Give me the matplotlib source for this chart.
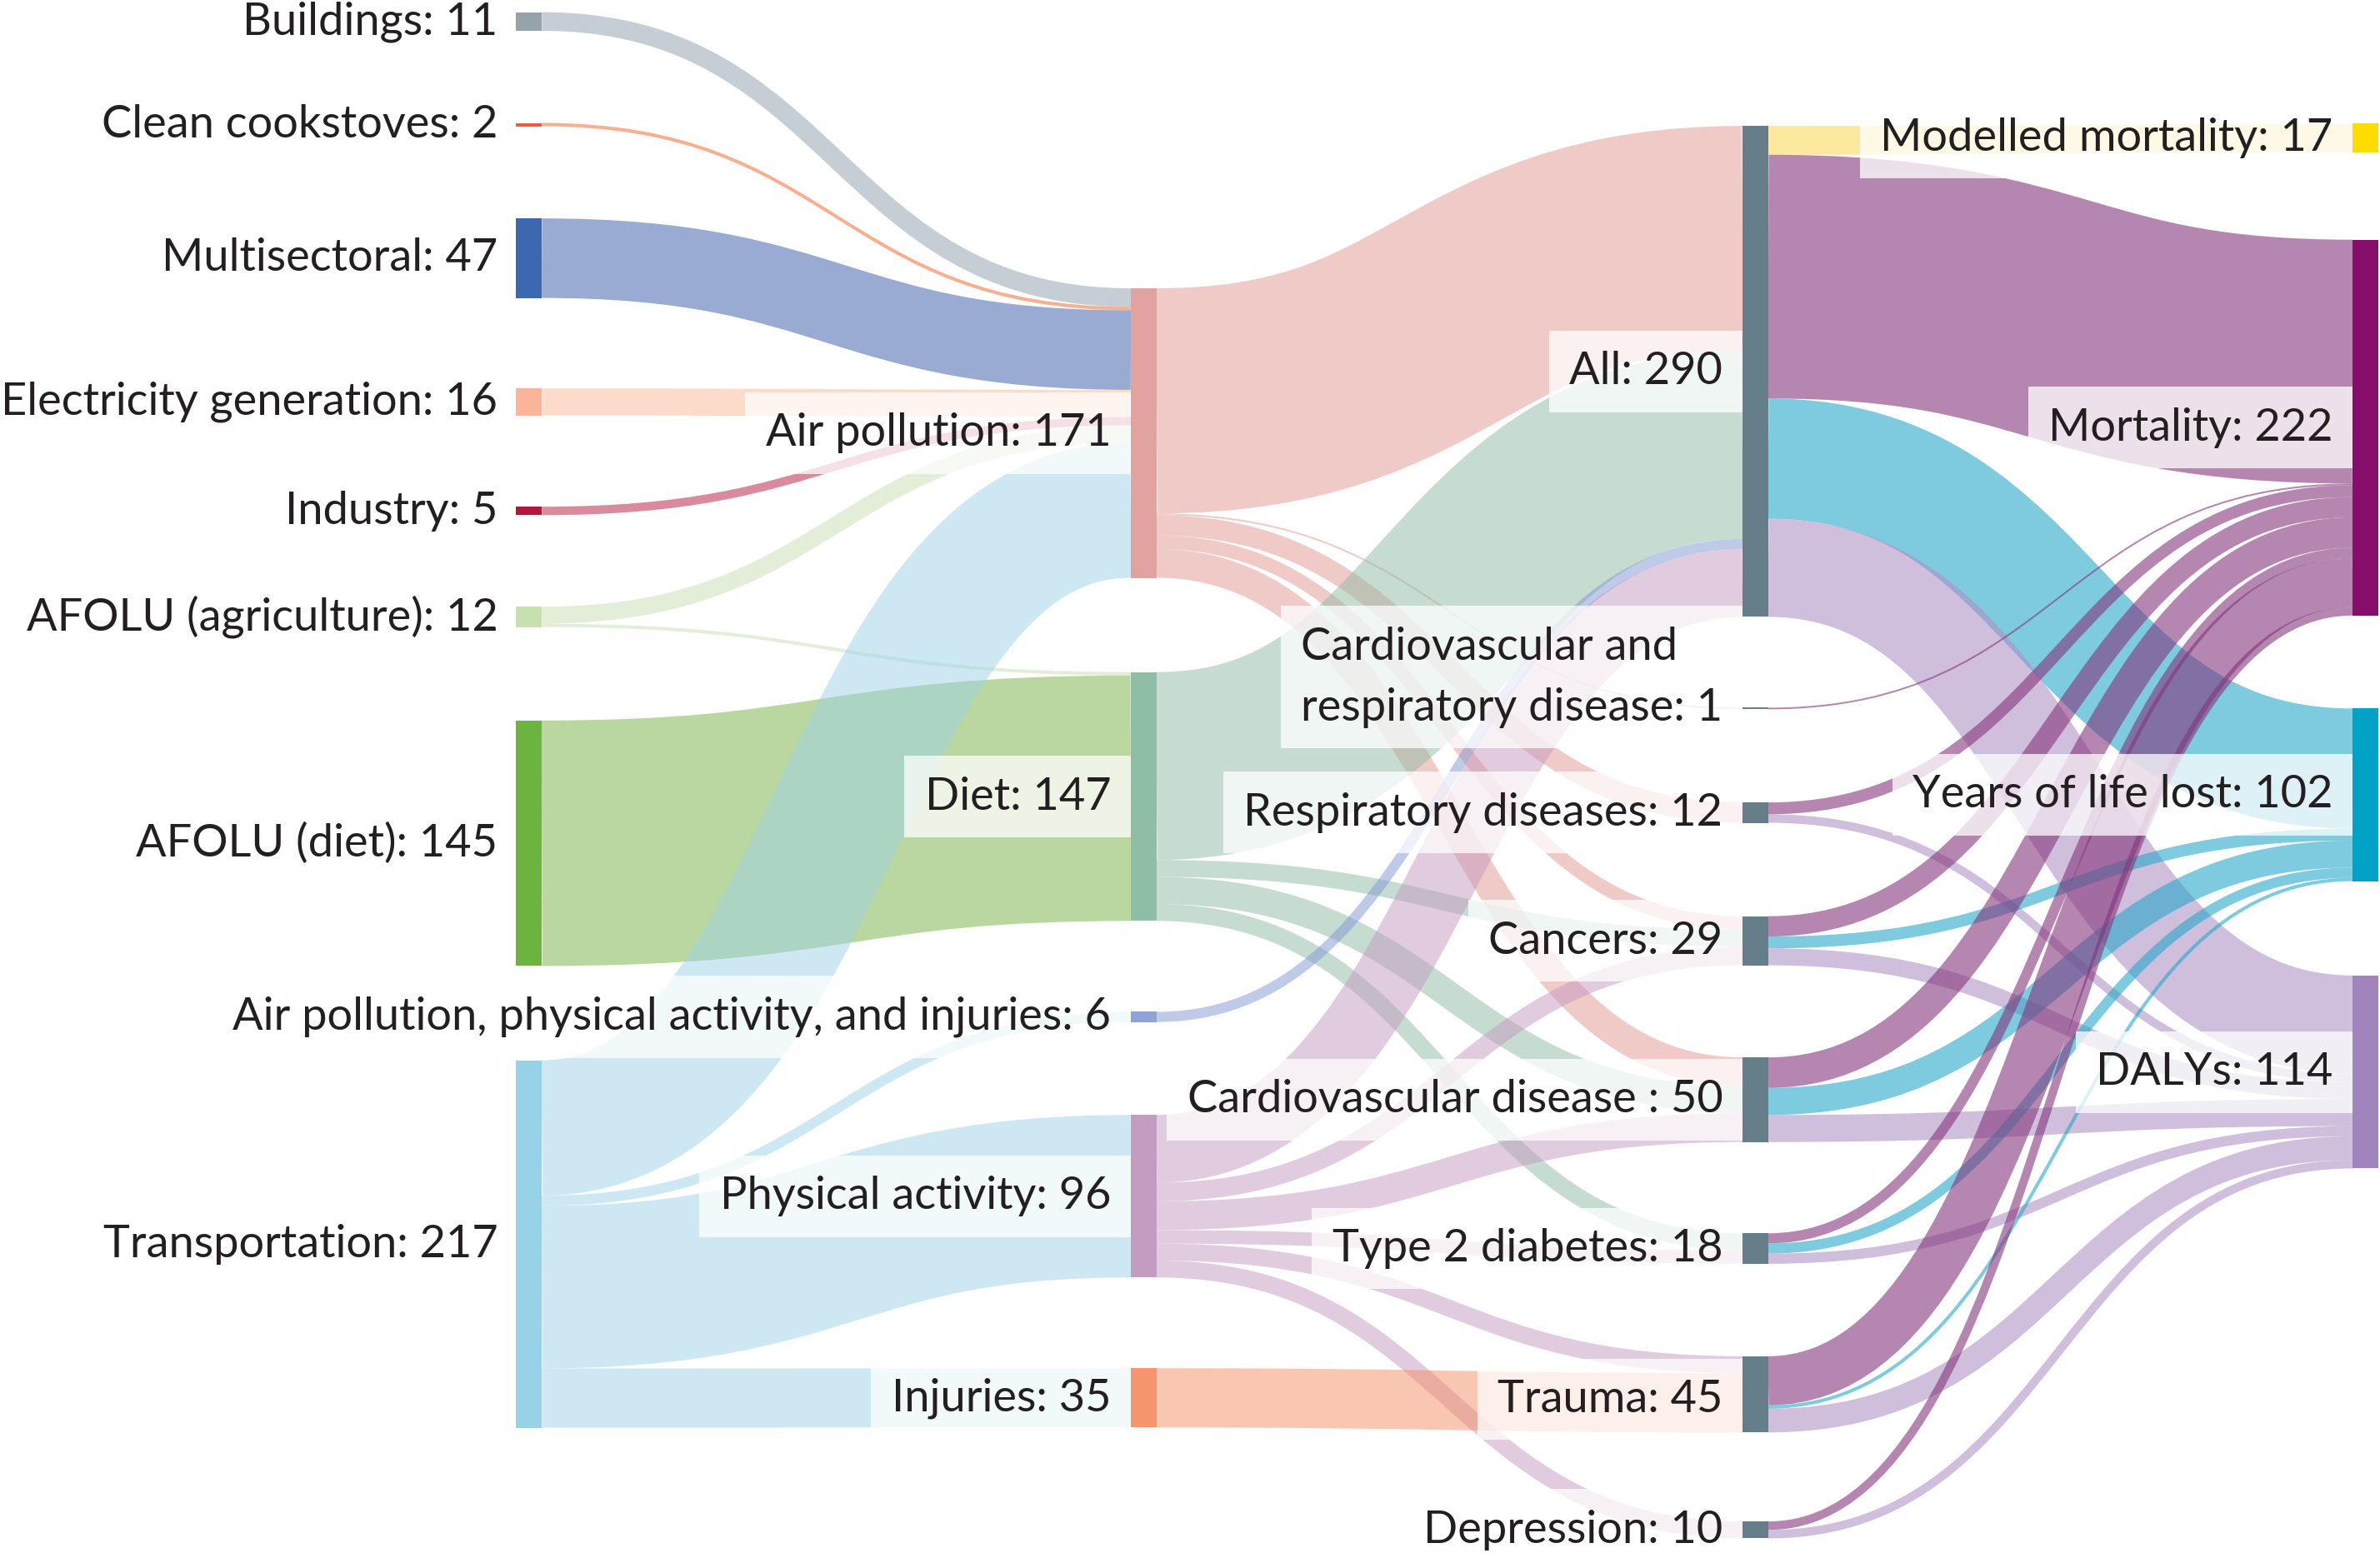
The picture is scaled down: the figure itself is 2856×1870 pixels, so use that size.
import matplotlib
matplotlib.use('Agg')
import matplotlib.pyplot as plt
from matplotlib.path import Path
from matplotlib.patches import PathPatch

plt.rcParams['font.family'] = ['Lato', 'DejaVu Sans']

# ---- data -------------------------------------------------------------
NODE_NAMES = [
    # column 0: sectors
    'Buildings', 'Clean cookstoves', 'Multisectoral', 'Electricity generation',
    'Industry', 'AFOLU (agriculture)', 'AFOLU (diet)', 'Transportation',
    # column 1: pathways
    'Air pollution', 'Diet', 'Air pollution, physical activity, and injuries',
    'Physical activity', 'Injuries',
    # column 2: health outcomes
    'All', 'Cardiovascular and\nrespiratory disease', 'Respiratory diseases',
    'Cancers', 'Cardiovascular disease ', 'Type 2 diabetes', 'Trauma',
    'Depression',
    # column 3: metrics
    'Modelled mortality', 'Mortality', 'Years of life lost', 'DALYs',
]
NODE_COLUMN = [0] * 8 + [1] * 5 + [2] * 8 + [3] * 4

LINK_SOURCE = [
    'Buildings', 'Clean cookstoves', 'Multisectoral', 'Electricity generation',
    'Industry', 'AFOLU (agriculture)', 'AFOLU (agriculture)', 'AFOLU (diet)',
    'Transportation', 'Transportation', 'Transportation', 'Transportation',
    'Air pollution', 'Air pollution', 'Air pollution', 'Air pollution', 'Air pollution',
    'Diet', 'Diet', 'Diet', 'Diet',
    'Air pollution, physical activity, and injuries',
    'Physical activity', 'Physical activity', 'Physical activity',
    'Physical activity', 'Physical activity', 'Physical activity',
    'Injuries',
    'All', 'All', 'All', 'All',
    'Cardiovascular and\nrespiratory disease',
    'Respiratory diseases', 'Respiratory diseases',
    'Cancers', 'Cancers', 'Cancers',
    'Cardiovascular disease ', 'Cardiovascular disease ', 'Cardiovascular disease ',
    'Type 2 diabetes', 'Type 2 diabetes', 'Type 2 diabetes',
    'Trauma', 'Trauma', 'Trauma',
    'Depression', 'Depression',
]
LINK_TARGET = [
    'Air pollution', 'Air pollution', 'Air pollution', 'Air pollution',
    'Air pollution', 'Air pollution', 'Diet', 'Diet',
    'Air pollution', 'Air pollution, physical activity, and injuries',
    'Physical activity', 'Injuries',
    'All', 'Cardiovascular and\nrespiratory disease', 'Respiratory diseases',
    'Cancers', 'Cardiovascular disease ',
    'All', 'Cancers', 'Cardiovascular disease ', 'Type 2 diabetes',
    'All',
    'All', 'Cancers', 'Cardiovascular disease ', 'Type 2 diabetes',
    'Trauma', 'Depression',
    'Trauma',
    'Modelled mortality', 'Mortality', 'Years of life lost', 'DALYs',
    'Mortality',
    'Mortality', 'DALYs',
    'Mortality', 'Years of life lost', 'DALYs',
    'Mortality', 'Years of life lost', 'DALYs',
    'Mortality', 'Years of life lost', 'DALYs',
    'Mortality', 'Years of life lost', 'DALYs',
    'Mortality', 'DALYs',
]
LINK_VALUE = [
    11, 2, 47, 16,
    5, 10, 2, 145,
    80, 6, 96, 35,
    133, 1, 12, 8, 17,
    111, 10, 16, 10,
    6,
    40, 11, 17, 8, 10, 10,
    35,
    17, 144, 71, 58,
    1,
    7, 5,
    12, 7, 10,
    18, 16, 16,
    6, 6, 6,
    29, 2, 14,
    5, 5,
]

# ---- layout & style ---------------------------------------------------
# top edge of every node, in flow units
NODE_TOP = [7.2, 72.6, 129.0, 229.4, 299.3, 358.4, 425.6, 626.3,
            170.3, 397.0, 597.7, 658.6, 808.2,
            74.4, 418.0, 474.0, 541.2, 624.6, 728.5, 801.1, 898.7,
            73.0, 141.6, 418.5, 576.2]
COL_X = [340, 745, 1148, 1550]
NODE_W = 17
Y_MAX = 920.3

NODE_COLOR = {
    'Buildings': '#95a3ab', 'Clean cookstoves': '#ee5a3c',
    'Multisectoral': '#3b68ae', 'Electricity generation': '#f9b49a',
    'Industry': '#b3163a', 'AFOLU (agriculture)': '#c7e0b0',
    'AFOLU (diet)': '#6db33f', 'Transportation': '#96d3e8',
    'Air pollution': '#e0a39f', 'Diet': '#8fbda5',
    'Air pollution, physical activity, and injuries': '#8fa3d8',
    'Physical activity': '#c39dc1', 'Injuries': '#f6956e',
    'Modelled mortality': '#fedc00', 'Mortality': '#850e6b',
    'Years of life lost': '#00a3c6', 'DALYs': '#a184bd',
}
OUTCOME_COLOR = '#667d8a'
FLOW_COLOR = {
    'Buildings': '#8d9fad', 'Clean cookstoves': '#f36121',
    'Multisectoral': '#3557a9', 'Electricity generation': '#fbb999',
    'Industry': '#b5163a', 'AFOLU (agriculture)': '#c7dfb1',
    'AFOLU (diet)': '#75b13f', 'Transportation': '#9fd3e9',
    'Air pollution': '#e39791', 'Diet': '#8fbba3',
    'Air pollution, physical activity, and injuries': '#8197d5',
    'Physical activity': '#c599c1', 'Injuries': '#f38f65',
    'Modelled mortality': '#fcda61', 'Mortality': '#84357b',
    'Years of life lost': '#28a7cb', 'DALYs': '#af93c6',
}
LABEL_DY = {'Cardiovascular and\nrespiratory disease': -18.5, 'Trauma': 3}
FONT_SIZE = 19.5
TEXT_COLOR = '#231f20'

# ---- figure -----------------------------------------------------------
DPI = 200
fig = plt.figure(figsize=(2856 / DPI, 1870 / DPI), dpi=DPI)
ax = fig.add_axes([0, 0, 1, 1])
ax.set_xlim(0, 1568)
ax.set_ylim(Y_MAX, 0)
ax.axis('off')

lw_per_unit = 1870 / Y_MAX * 72 / DPI

top = {n: NODE_TOP[i] for i, n in enumerate(NODE_NAMES)}
col = {n: NODE_COLUMN[i] for i, n in enumerate(NODE_NAMES)}

links = list(zip(LINK_SOURCE, LINK_TARGET, LINK_VALUE))
value = {}
for n in NODE_NAMES:
    v_in = sum(v for s, t, v in links if t == n)
    v_out = sum(v for s, t, v in links if s == n)
    value[n] = max(v_in, v_out)

# stack links on each node: outgoing sorted by target position, incoming by source
out_off, in_off = {}, {}
for n in NODE_NAMES:
    outs = sorted([k for k, l in enumerate(links) if l[0] == n], key=lambda k: top[links[k][1]])
    y = top[n]
    for k in outs:
        out_off[k] = y
        y += links[k][2]
    ins = sorted([k for k, l in enumerate(links) if l[1] == n], key=lambda k: top[links[k][0]])
    y = top[n]
    for k in ins:
        in_off[k] = y
        y += links[k][2]

for k, (s, t, v) in enumerate(links):
    x0 = COL_X[col[s]] + NODE_W
    x1 = COL_X[col[t]]
    y0 = out_off[k] + v / 2
    y1 = in_off[k] + v / 2
    xm = (x0 + x1) / 2
    path = Path([(x0, y0), (xm, y0), (xm, y1), (x1, y1)],
                [Path.MOVETO, Path.CURVE4, Path.CURVE4, Path.CURVE4])
    if col[s] < 2:
        color, alpha = FLOW_COLOR[s], 0.5
    else:
        color, alpha = FLOW_COLOR[t], 0.6
    ax.add_patch(PathPatch(path, facecolor='none', edgecolor=color, alpha=alpha,
                           lw=v * lw_per_unit, capstyle='butt', zorder=1))

for n in NODE_NAMES:
    c = NODE_COLOR.get(n, OUTCOME_COLOR)
    ax.bar(COL_X[col[n]], value[n], bottom=top[n], width=NODE_W, align='edge',
           color=c, linewidth=0, zorder=4)
    label = f'{n}: {value[n]}'
    yc = top[n] + value[n] / 2 + LABEL_DY.get(n, 0)
    if col[n] == 0:
        ax.text(COL_X[0] - 12, yc, label, ha='right', va='center',
                fontsize=FONT_SIZE, color=TEXT_COLOR, zorder=3)
    else:
        ax.text(COL_X[col[n]] - 13, yc, label, ha='right', va='center',
                multialignment='left', fontsize=FONT_SIZE, color=TEXT_COLOR,
                linespacing=1.6, zorder=3,
                bbox=dict(boxstyle='square,pad=0.45', fc='white', ec='none',
                          alpha=0.75))

fig.savefig('out.png', dpi=DPI)
